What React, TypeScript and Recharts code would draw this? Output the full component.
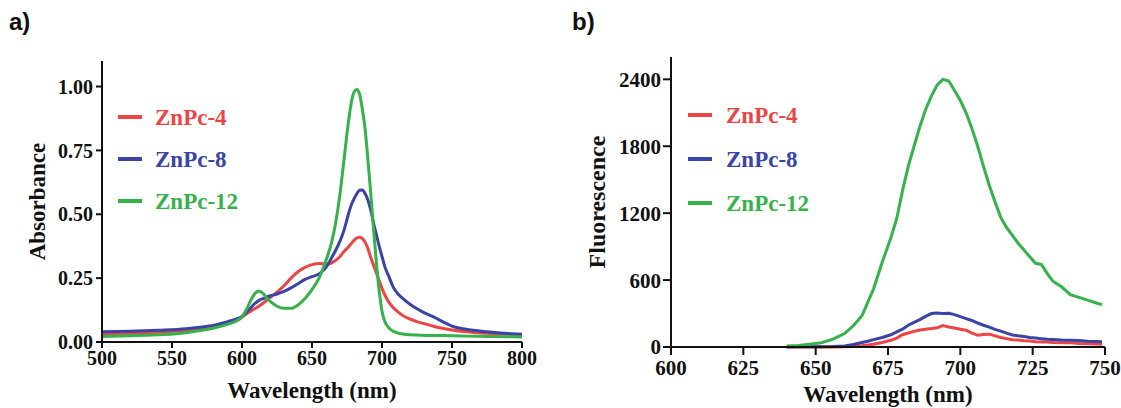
import React from "react";
import { LineChart, Line, XAxis, YAxis, Legend } from "recharts";

// a) absorbance spectra
const absWavelength = [
  500, 520, 540, 560, 570, 580, 590, 595, 600, 603, 606, 609, 612, 615, 618, 621, 625, 630, 635, 640,
  645, 650, 655, 658, 661, 664, 667, 670, 673, 676, 678, 680, 682, 684, 686, 688, 690, 692, 694, 696,
  698, 700, 702, 705, 708, 712, 716, 720, 725, 730, 738, 745, 750, 760, 775, 790, 800,
];
const absZnPc4 = [
  0.03, 0.033, 0.038, 0.045, 0.052, 0.06, 0.075, 0.085, 0.098, 0.11, 0.12, 0.13, 0.14, 0.152, 0.165, 0.178, 0.195, 0.22, 0.25, 0.275,
  0.292, 0.303, 0.307, 0.306, 0.305, 0.31, 0.32, 0.335, 0.355, 0.372, 0.385, 0.398, 0.407, 0.41, 0.405, 0.39, 0.365, 0.33, 0.3, 0.27,
  0.24, 0.21, 0.185, 0.155, 0.135, 0.115, 0.1, 0.09, 0.08, 0.072, 0.06, 0.052, 0.047, 0.04, 0.034, 0.03, 0.028,
];
const absZnPc8 = [
  0.04, 0.042, 0.046, 0.052, 0.058, 0.066, 0.08, 0.088, 0.1, 0.115, 0.132, 0.15, 0.162, 0.17, 0.177, 0.182, 0.188, 0.198, 0.212, 0.228,
  0.245, 0.256, 0.266, 0.28, 0.3, 0.33, 0.36, 0.395, 0.44, 0.5, 0.535, 0.56, 0.58, 0.594, 0.595, 0.58, 0.555, 0.515, 0.465, 0.42,
  0.375, 0.335, 0.295, 0.255, 0.215, 0.185, 0.165, 0.148, 0.13, 0.115, 0.095, 0.075, 0.062, 0.05, 0.04, 0.033, 0.03,
];
const absZnPc12 = [
  0.022, 0.024, 0.028, 0.036, 0.045, 0.055, 0.07, 0.08, 0.098, 0.125, 0.16, 0.188, 0.2, 0.19, 0.17, 0.155, 0.14, 0.132, 0.132, 0.145,
  0.17, 0.205, 0.25, 0.29, 0.335, 0.39, 0.47, 0.58, 0.72, 0.86, 0.935, 0.978, 0.988, 0.97, 0.91, 0.83, 0.71, 0.58, 0.44, 0.31,
  0.2, 0.12, 0.08, 0.055, 0.042, 0.034, 0.03, 0.028, 0.027, 0.026, 0.025, 0.025, 0.024, 0.023, 0.022, 0.021, 0.02,
];
const absTicksX = [500, 550, 600, 650, 700, 750, 800];
const absTicksY = [0, 0.25, 0.5, 0.75, 1.0];

// b) fluorescence spectra
const fluWavelength = [
  640, 644, 648, 652, 656, 660, 663, 666, 668, 670, 673, 676, 678, 680, 682, 684, 686, 688, 690, 692,
  694, 696, 698, 700, 702, 704, 706, 708, 710, 712, 714, 716, 718, 720, 722, 724, 726, 728, 730, 732,
  735, 738, 741, 744, 747, 749,
];
const fluZnPc4 = [
  0, 0, 1, 0, 0, 2, 5, 12, 18, 25, 40, 60, 80, 110, 125, 140, 152, 160, 165, 172,
  192, 180, 170, 160, 150, 125, 105, 112, 115, 100, 85, 75, 66, 62, 57, 54, 48, 45, 44, 40,
  38, 38, 32, 30, 27, 25,
];
const fluZnPc8 = [
  0, 2, 3, 2, 4, 10, 22, 40, 52, 66, 85, 110, 135, 160, 195, 220, 245, 275, 300, 305,
  300, 302, 290, 272, 255, 238, 215, 195, 178, 158, 142, 125, 108, 100, 95, 85, 80, 75, 70, 68,
  62, 60, 58, 52, 50, 48,
];
const fluZnPc12 = [
  8, 14, 25, 38, 70, 120, 190, 280, 400, 520, 760, 980, 1150, 1400, 1620, 1800, 1975, 2130, 2250, 2350,
  2400, 2385, 2300, 2210, 2100, 1960, 1800, 1620, 1450, 1300, 1160, 1070, 1000, 930, 870, 810, 750, 740, 660, 590,
  540, 470, 445, 420, 395, 380,
];
const fluTicksX = [600, 625, 650, 675, 700, 725, 750];
const fluTicksY = [0, 600, 1200, 1800, 2400];

const seriesNames = ["ZnPc-4", "ZnPc-8", "ZnPc-12"];
const seriesColors = ["#ec4545", "#3a43a6", "#35b24a"];

const serif = '"Liberation Serif", "Times New Roman", serif';
const ink = "#111";

const absData = absWavelength.map((w, i) => ({ w, s4: absZnPc4[i], s8: absZnPc8[i], s12: absZnPc12[i] }));
const fluData = fluWavelength.map((w, i) => ({ w, s4: fluZnPc4[i], s8: fluZnPc8[i], s12: fluZnPc12[i] }));

// legend keeps the series order (recharts sorts by name otherwise)
const makeLegend = (rowHeight: number, gap: number) => (props: any) => {
  const items = [...(props.payload || [])].sort(
    (a: any, b: any) => seriesNames.indexOf(a.value) - seriesNames.indexOf(b.value),
  );
  return (
    <div>
      {items.map((item: any) => (
        <div key={item.value} style={{ display: "flex", alignItems: "center", height: rowHeight }}>
          <span style={{ display: "inline-block", width: 24, height: 4, background: item.color, marginRight: gap }} />
          <span style={{ color: item.color, fontFamily: serif, fontWeight: "bold", fontSize: 23, lineHeight: 1 }}>
            {item.value}
          </span>
        </div>
      ))}
    </div>
  );
};

const seriesLines = (type: "monotone" | "linear") =>
  ["s4", "s8", "s12"].map((key, i) => (
    <Line
      key={key}
      type={type}
      dataKey={key}
      name={seriesNames[i]}
      stroke={seriesColors[i]}
      strokeWidth={3}
      dot={false}
      activeDot={false}
      isAnimationActive={false}
    />
  ));

const axisLine = { stroke: ink, strokeWidth: 2 };

const panelLabel = (text: string, left: number) => (
  <div
    style={{
      position: "absolute",
      left,
      top: 10,
      fontFamily: '"Liberation Sans", Arial, sans-serif',
      fontWeight: "bold",
      fontSize: 24,
      lineHeight: 1,
      color: ink,
    }}
  >
    {text}
  </div>
);

export default function App() {
  return (
    <div style={{ position: "absolute", left: 0, top: 0, width: 1121, height: 408, background: "#fff" }}>
      {panelLabel("a)", 9)}
      {panelLabel("b)", 572)}

      <div style={{ position: "absolute", left: 0, top: 0 }}>
        <LineChart width={560} height={408} data={absData} margin={{ top: 61, right: 38, bottom: 0, left: 0 }}>
          <XAxis
            dataKey="w"
            type="number"
            domain={[500, 800]}
            ticks={absTicksX}
            interval={0}
            height={66}
            axisLine={axisLine}
            tickLine={axisLine}
            tickSize={6}
            tickMargin={3}
            tick={{ fill: ink, fontSize: 20, fontFamily: serif, fontWeight: "bold" }}
            label={{
              value: "Wavelength (nm)",
              position: "insideBottom",
              offset: 10,
              style: { fill: ink, fontSize: 23, fontFamily: serif, fontWeight: "bold" },
            }}
          />
          <YAxis
            type="number"
            domain={[0, 1.1]}
            ticks={absTicksY}
            interval={0}
            width={102}
            axisLine={axisLine}
            tickLine={axisLine}
            tickSize={6}
            tickMargin={3}
            tickFormatter={(v: number) => v.toFixed(2)}
            tick={{ fill: ink, fontSize: 20, fontFamily: serif, fontWeight: "bold" }}
            label={{
              value: "Absorbance",
              angle: -90,
              position: "insideLeft",
              offset: 37,
              style: { textAnchor: "middle", fill: ink, fontSize: 23, fontFamily: serif, fontWeight: "bold" },
            }}
          />
          <Legend
            layout="vertical"
            align="center"
            verticalAlign="middle"
            content={makeLegend(42, 13)}
            wrapperStyle={{ left: 118, top: 96, width: "auto" }}
          />
          {seriesLines("monotone")}
        </LineChart>
      </div>

      <div style={{ position: "absolute", left: 540, top: 0 }}>
        <LineChart width={581} height={408} data={fluData} margin={{ top: 57, right: 16, bottom: 0, left: 0 }}>
          <XAxis
            dataKey="w"
            type="number"
            domain={[600, 750]}
            ticks={fluTicksX}
            interval={0}
            height={61}
            axisLine={axisLine}
            tickLine={axisLine}
            tickSize={8}
            tickMargin={5}
            tick={{ fill: ink, fontSize: 21, fontFamily: serif, fontWeight: "bold" }}
            label={{
              value: "Wavelength (nm)",
              position: "insideBottom",
              offset: 6,
              style: { fill: ink, fontSize: 23, fontFamily: serif, fontWeight: "bold" },
            }}
          />
          <YAxis
            type="number"
            domain={[0, 2600]}
            ticks={fluTicksY}
            interval={0}
            width={131}
            axisLine={axisLine}
            tickLine={axisLine}
            tickSize={8}
            tickMargin={2}
            tick={{ fill: ink, fontSize: 21, fontFamily: serif, fontWeight: "bold" }}
            label={{
              value: "Fluorescence",
              angle: -90,
              position: "insideLeft",
              offset: 56,
              style: { textAnchor: "middle", fill: ink, fontSize: 24, fontFamily: serif, fontWeight: "bold" },
            }}
          />
          <Legend
            layout="vertical"
            align="center"
            verticalAlign="middle"
            content={makeLegend(44, 14)}
            wrapperStyle={{ left: 148, top: 93, width: "auto" }}
          />
          {seriesLines("linear")}
        </LineChart>
      </div>
    </div>
  );
}
